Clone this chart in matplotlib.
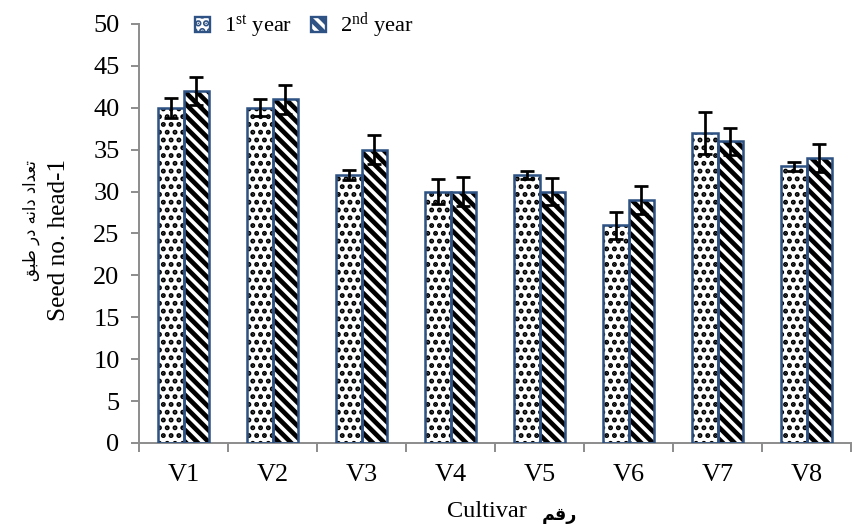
import matplotlib
matplotlib.use("Agg")
import matplotlib.pyplot as plt
import numpy as np
from matplotlib.patches import Patch

# ---------------- data ----------------
cultivars = ["V1", "V2", "V3", "V4", "V5", "V6", "V7", "V8"]
year1 = [40, 40, 32, 30, 32, 26, 37, 33]
year2 = [42, 41, 35, 30, 30, 29, 36, 34]
year1_err = [1.2, 1.0, 0.6, 1.5, 0.5, 1.6, 2.5, 0.5]
year2_err = [1.7, 1.7, 1.7, 1.7, 1.6, 1.7, 1.6, 1.7]
yticks = [0, 5, 10, 15, 20, 25, 30, 35, 40, 45, 50]
legend_labels = ["1$^{\\mathrm{st}}$ year", "2$^{\\mathrm{nd}}$ year"]
ylabel_en = "Seed no. head-1"
ylabel_ar = "تعداد دانه در طبق"
xlabel_en = "Cultivar"
xlabel_ar = "رقم"

# ---------------- minimal Arabic shaping ----------------
FORMS = {  # iso, fin, ini, med ; None ini => does not join to next
    "ا": (0xFE8D, 0xFE8E, None, None),
    "ب": (0xFE8F, 0xFE90, 0xFE91, 0xFE92),
    "ت": (0xFE95, 0xFE96, 0xFE97, 0xFE98),
    "د": (0xFEA9, 0xFEAA, None, None),
    "ر": (0xFEAD, 0xFEAE, None, None),
    "ط": (0xFEC1, 0xFEC2, 0xFEC3, 0xFEC4),
    "ع": (0xFEC9, 0xFECA, 0xFECB, 0xFECC),
    "ق": (0xFED5, 0xFED6, 0xFED7, 0xFED8),
    "م": (0xFEE1, 0xFEE2, 0xFEE3, 0xFEE4),
    "ن": (0xFEE5, 0xFEE6, 0xFEE7, 0xFEE8),
    "ه": (0xFEE9, 0xFEEA, 0xFEEB, 0xFEEC),
}


def shape(text):
    out = []
    chars = list(text)
    for i, c in enumerate(chars):
        if c not in FORMS:
            out.append(c)
            continue
        prev = chars[i - 1] if i > 0 else None
        nxt = chars[i + 1] if i + 1 < len(chars) else None
        join_prev = prev in FORMS and FORMS[prev][2] is not None
        join_next = nxt in FORMS and FORMS[c][2] is not None
        iso, fin, ini, med = FORMS[c]
        if join_prev and join_next:
            cp = med
        elif join_prev:
            cp = fin
        elif join_next:
            cp = ini
        else:
            cp = iso
        out.append(chr(cp))
    return "".join(out)[::-1]


# ---------------- style ----------------
plt.rcParams["font.family"] = ["Liberation Serif", "DejaVu Sans"]
plt.rcParams["mathtext.fontset"] = "custom"
plt.rcParams["mathtext.rm"] = "Liberation Serif"
plt.rcParams["mathtext.it"] = "Liberation Serif:italic"

DPI = 140
fig = plt.figure(figsize=(854 / DPI, 525 / DPI), dpi=DPI)
ax = fig.add_axes([0.1628, 0.1562, 0.8337, 0.7981])

x = np.arange(len(cultivars))
w = 0.29
edge = "#2E5283"
axis_c = "#8C8C8C"
DOTS = "..."
STRIPES = "\\\\\\\\"


def hatched_bars(xpos, vals, hatch, hlw):
    bars = ax.bar(xpos, vals, w, color="white", edgecolor="black",
                  linewidth=0, hatch=hatch, zorder=2)
    for b in bars:
        if hasattr(b, "set_hatch_linewidth"):
            b.set_hatch_linewidth(hlw)
    ax.bar(xpos, vals, w, facecolor="none", edgecolor=edge,
           linewidth=1.3, zorder=3)
    return bars


plt.rcParams["hatch.linewidth"] = 1.7
b1 = hatched_bars(x - w / 2, year1, DOTS, 1.7)
plt.rcParams["hatch.linewidth"] = 2.4
b2 = hatched_bars(x + w / 2, year2, STRIPES, 2.4)

ax.errorbar(x - w / 2, year1, yerr=year1_err, fmt="none", ecolor="black",
            elinewidth=1.4, capsize=3.5, capthick=1.4, zorder=4)
ax.errorbar(x + w / 2, year2, yerr=year2_err, fmt="none", ecolor="black",
            elinewidth=1.4, capsize=3.5, capthick=1.4, zorder=4)

ax.set_xlim(-0.5, len(cultivars) - 0.5)
ax.set_ylim(0, 50)
ax.set_yticks(yticks)
ax.set_xticks(x)
ax.set_xticklabels(cultivars)
ax.set_xticks(np.arange(len(cultivars) + 1) - 0.5, minor=True)
ax.tick_params(axis="x", which="major", length=0, pad=11, labelsize=13.5)
ax.tick_params(axis="x", which="minor", length=4.5, width=1, color=axis_c,
               direction="out")
ax.tick_params(axis="y", length=4, width=1, color=axis_c, labelsize=13.5,
               pad=6)
for s in ["top", "right"]:
    ax.spines[s].set_visible(False)
for s in ["left", "bottom"]:
    ax.spines[s].set_color(axis_c)
    ax.spines[s].set_linewidth(1.0)

# legend
h1 = Patch(facecolor="white", edgecolor=edge, hatch=DOTS, linewidth=1.2)
h2 = Patch(facecolor="white", edgecolor=edge, hatch=STRIPES, linewidth=1.2)
leg = fig.legend([h1, h2], legend_labels, loc="center left",
                 bbox_to_anchor=(0.210, 0.950), ncol=2, frameon=False,
                 handlelength=0.65, handleheight=0.65, handletextpad=0.65,
                 columnspacing=0.85, fontsize=11.5, borderpad=0.2)

# axis labels
fig.text(0.069, 0.543, ylabel_en, rotation=90, ha="center", va="center",
         fontsize=13)
fig.text(0.036, 0.58, shape(ylabel_ar), rotation=90, ha="center",
         va="center", fontsize=8.5, family=["DejaVu Sans"])
fig.text(0.570, 0.025, xlabel_en, ha="center", va="center", fontsize=12.5)
fig.text(0.655, 0.020, shape(xlabel_ar), ha="center", va="center",
         fontsize=9, family=["DejaVu Sans"], fontweight="bold")

fig.savefig("out.png", dpi=DPI)
